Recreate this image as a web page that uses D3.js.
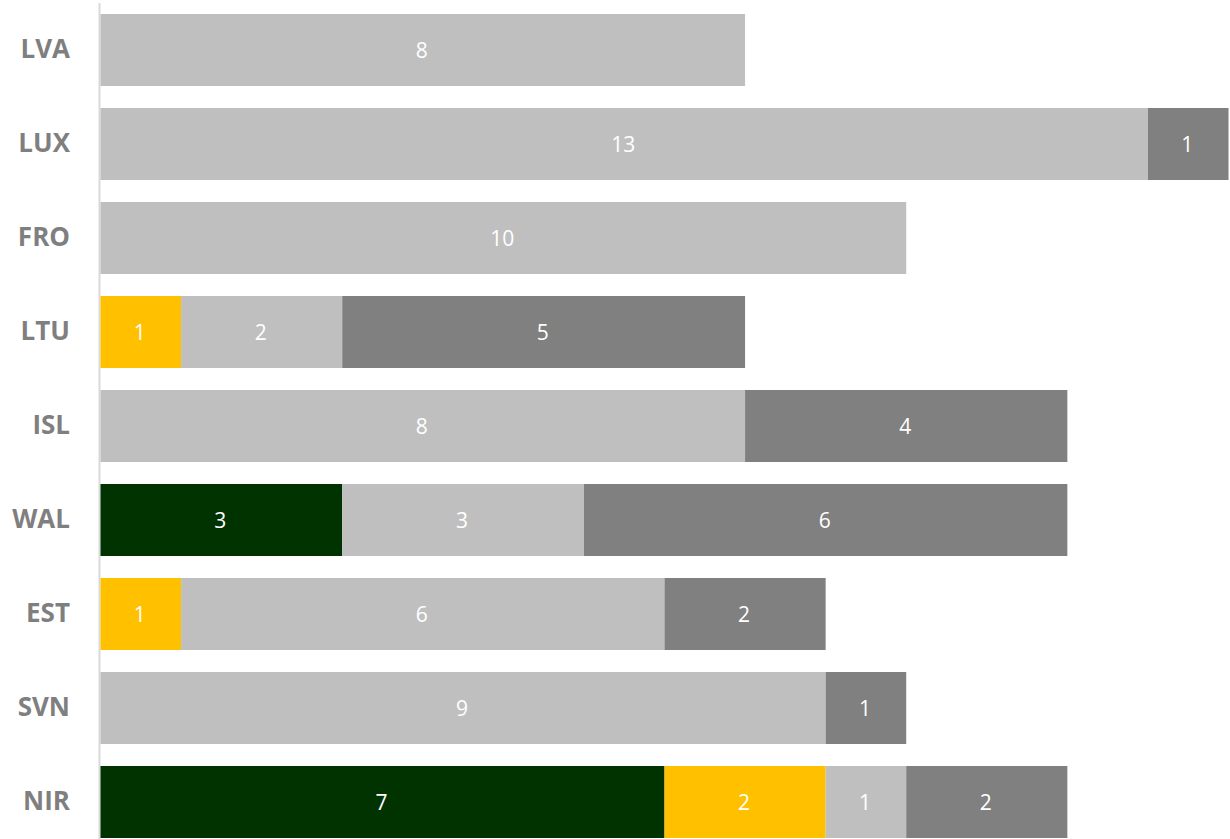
<!DOCTYPE html>
<html><head><meta charset="utf-8">
<script src="https://cdn.jsdelivr.net/npm/d3@7"></script>
<style>html,body{margin:0;padding:0;background:#fff;}</style>
</head><body>
<svg id="c" width="1230" height="839"></svg>
<script>
const categories = ["LVA","LUX","FRO","LTU","ISL","WAL","EST","SVN","NIR"];
const seriesNames = ["s1","s2","s3","s4"];
const s1 = [0,0,0,0,0,3,0,0,7];
const s2 = [0,0,0,1,0,0,1,0,2];
const s3 = [8,13,10,2,8,3,6,9,1];
const s4 = [0,1,0,5,4,6,2,1,2];
const colors = ["#003300","#FFC000","#BFBFBF","#808080"];

const rows = categories.map((c,i)=>({cat:c, s1:s1[i], s2:s2[i], s3:s3[i], s4:s4[i]}));
const stack = d3.stack().keys(seriesNames)(rows);

const svg = d3.select("#c");
const x = d3.scaleLinear().domain([0,14]).range([100.5,1228.5]);
const y = d3.scaleBand().domain(categories).range([3,849]).paddingInner(22/94).paddingOuter(11/94);

svg.append("line").attr("x1",99.5).attr("x2",99.5).attr("y1",3).attr("y2",839)
  .attr("stroke","#d9d9d9").attr("stroke-width",2);

const g = svg.append("g");
stack.forEach((layer,k)=>{
  const lg = g.append("g");
  layer.forEach((d,i)=>{
    if (d[1]-d[0] <= 0) return;
    const yy = y(categories[i]);
    lg.append("rect").attr("x",x(d[0])).attr("y",yy)
      .attr("width",x(d[1])-x(d[0])).attr("height",y.bandwidth())
      .attr("fill",colors[k]);
    lg.append("text").attr("x",(x(d[0])+x(d[1]))/2 - 1).attr("y",yy+y.bandwidth()/2)
      .attr("dy","0.36em").attr("text-anchor","middle")
      .attr("fill","#fff").attr("font-family","'Open Sans', 'Liberation Sans', sans-serif")
      .attr("font-size",21).text(d[1]-d[0]);
  });
});

const ax = d3.axisLeft(y).tickSize(0).tickPadding(0);
const axg = svg.append("g").attr("transform","translate(70,0)").call(ax);
axg.select(".domain").remove();
axg.selectAll("text").attr("fill","#7f7f7f").attr("font-size",26).attr("font-weight","bold")
  .attr("font-family","'Open Sans', 'Liberation Sans', sans-serif");
</script>
</body></html>
